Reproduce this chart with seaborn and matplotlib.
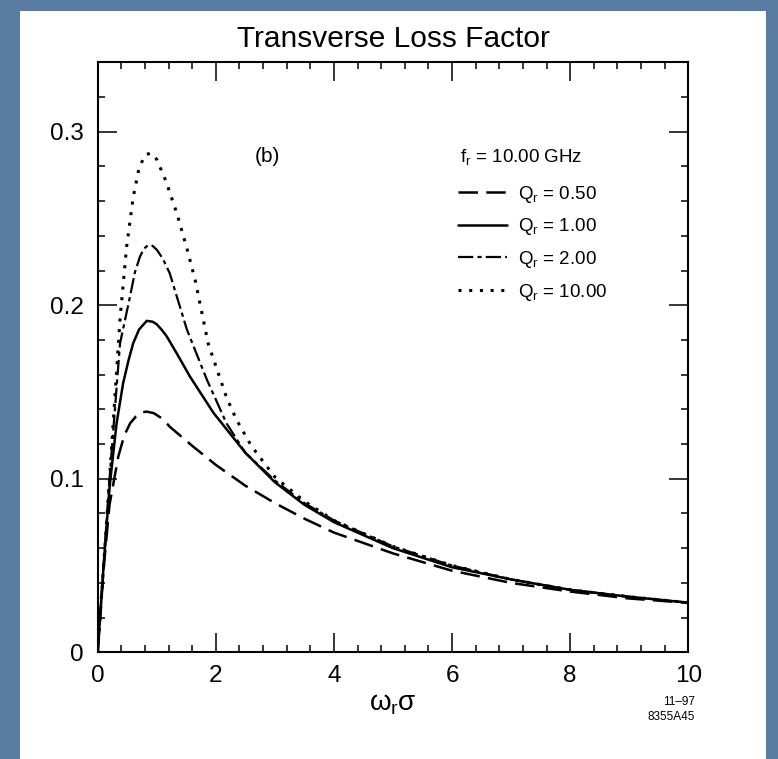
import matplotlib
matplotlib.use("Agg")
import matplotlib.pyplot as plt
import seaborn as sns
import pandas as pd
from matplotlib.patches import Rectangle

# values (bunch length w_r*sigma vs transverse loss factor)
sigma_q05 = [0, 0.1, 0.2, 0.35, 0.45, 0.55, 0.65, 0.75, 0.83, 0.95, 1.1, 1.22, 1.6, 2.0, 2.5, 3.0,
             3.5, 4.0, 5.0, 6.0, 7.0, 8.0, 9.0, 10.0]
loss_q05 = [0, 0.048, 0.085, 0.113, 0.125, 0.132, 0.136, 0.1383, 0.1387, 0.1378, 0.1345, 0.130,
            0.119, 0.108, 0.096, 0.086, 0.077, 0.069, 0.057, 0.047, 0.040, 0.035, 0.031, 0.0285]

sigma_q1 = [0, 0.1, 0.2, 0.32, 0.43, 0.52, 0.6, 0.7, 0.83, 0.93, 1.0, 1.08, 1.17, 1.36, 1.56, 1.96,
            2.5, 3.0, 3.5, 4.0, 5.0, 6.0, 7.0, 8.0, 9.0, 10.0]
loss_q1 = [0, 0.05, 0.095, 0.132, 0.155, 0.168, 0.178, 0.186, 0.191, 0.1905, 0.189, 0.186, 0.182,
           0.171, 0.159, 0.138, 0.115, 0.098, 0.085, 0.075, 0.060, 0.049, 0.042, 0.036, 0.032,
           0.0286]

sigma_q2 = [0, 0.1, 0.2, 0.378, 0.547, 0.63, 0.716, 0.78, 0.857, 0.93, 1.0, 1.1, 1.22, 1.51, 1.85,
            2.18, 2.5, 3.0, 3.5, 4.0, 5.0, 6.0, 7.0, 8.0, 9.0, 10.0]
loss_q2 = [0, 0.05, 0.10, 0.178, 0.205, 0.219, 0.228, 0.2325, 0.2347, 0.2342, 0.232, 0.227, 0.2184,
           0.186, 0.157, 0.132, 0.115, 0.099, 0.086, 0.076, 0.061, 0.050, 0.042, 0.036, 0.032,
           0.0286]

sigma_q10 = [0, 0.1, 0.2, 0.38, 0.49, 0.6, 0.7, 0.8, 0.886, 0.95, 1.0, 1.15, 1.34, 1.5, 1.65, 1.87,
             2.18, 2.35, 2.6, 3.0, 3.5, 4.0, 5.0, 6.0, 7.0, 8.0, 9.0, 10.0]
loss_q10 = [0, 0.05, 0.10, 0.193, 0.2338, 0.262, 0.279, 0.2865, 0.2876, 0.2865, 0.284, 0.272, 0.253,
            0.234, 0.2146, 0.178, 0.147, 0.134, 0.119, 0.101, 0.087, 0.076, 0.061, 0.050, 0.042,
            0.036, 0.032, 0.0286]

q_labels = ["0.50", "1.00", "2.00", "10.00"]

sns.set_style("ticks")
plt.rcParams['font.family'] = ['Liberation Sans', 'DejaVu Sans']
plt.rcParams['mathtext.fontset'] = 'custom'
plt.rcParams['mathtext.rm'] = 'Liberation Sans'
plt.rcParams['mathtext.it'] = 'Liberation Sans'
plt.rcParams['lines.scale_dashes'] = False
plt.rcParams['text.color'] = 'black'
plt.rcParams['xtick.color'] = 'black'
plt.rcParams['ytick.color'] = 'black'
plt.rcParams['axes.labelcolor'] = 'black'

fig = plt.figure(figsize=(7.78, 7.59), dpi=100)
fig.patch.set_facecolor('#5a7ca3')
# white slide panel behind the plot
fig.patches.append(Rectangle((20 / 778, 0), 746 / 778, 1 - 11 / 759, transform=fig.transFigure,
                             facecolor='white', edgecolor='none', zorder=-5))

ax = fig.add_axes([97.7 / 778, 1 - 652.3 / 759, 590.6 / 778, 590 / 759])
ax.set_facecolor('white')

styles = [
    dict(lw=1.8, dashes=(14, 6)),
    dict(lw=1.8, dashes=None),
    dict(lw=1.6, dashes=(11, 3, 3, 3)),
    dict(lw=2.2, dashes=(2.2, 5.5)),
]
series = [(sigma_q05, loss_q05), (sigma_q1, loss_q1), (sigma_q2, loss_q2), (sigma_q10, loss_q10)]

handles = []
for (xs, ys), lab, st in zip(series, q_labels, styles):
    df = pd.DataFrame({'sigma': xs, 'loss': ys})
    sns.lineplot(data=df, x='sigma', y='loss', ax=ax, color='black', sort=False,
                 linewidth=st['lw'], label=r'Q$_\mathrm{r}$ = ' + lab)
    line = ax.lines[-1]
    if st['dashes'] is not None:
        line.set_dashes(st['dashes'])
    line.set_dash_capstyle('butt')
    handles.append(line)

ax.set_xlim(0, 10)
ax.set_ylim(0, 0.34)
ax.set_xticks([0, 2, 4, 6, 8, 10])
ax.set_xticklabels(['0', '2', '4', '6', '8', '10'])
ax.set_xticks([i * 0.4 for i in range(26)], minor=True)
ax.set_yticks([0, 0.1, 0.2, 0.3])
ax.set_yticklabels(['0', '0.1', '0.2', '0.3'])
ax.set_yticks([i * 0.02 for i in range(18)], minor=True)

ax.tick_params(which='both', direction='in', top=True, right=True, width=1.1, color='black')
ax.tick_params(which='major', length=13.5, labelsize=17.5, pad=9)
ax.tick_params(which='minor', length=5)
ax.tick_params(axis='y', which='major', pad=10)
for s in ax.spines.values():
    s.set_linewidth(1.5)
    s.set_color('black')
    s.set_visible(True)

ax.set_title('Transverse Loss Factor', fontsize=21.5, pad=11)
ax.set_xlabel(r'$\omega_\mathrm{r}\sigma$', fontsize=20, labelpad=3)
ax.set_ylabel('')

ax.legend(handles=handles, loc='upper left', bbox_to_anchor=(0.598, 0.807), frameon=False,
          fontsize=13.5, handlelength=2.6, handletextpad=0.6, labelspacing=0.62, borderaxespad=0)

ax.text(0.266, 0.84, '(b)', transform=ax.transAxes, fontsize=15, va='center', ha='left')
ax.text(0.614, 0.84, r'f$_\mathrm{r}$ = 10.00 GHz', transform=ax.transAxes, fontsize=13.5,
        va='center', ha='left')

fig.text(695 / 778, 1 - 702 / 759, '11\u201397', fontsize=8.5, ha='right', va='center')
fig.text(695 / 778, 1 - 717 / 759, '8355A45', fontsize=8.5, ha='right', va='center')

fig.savefig('out.png', dpi=100, facecolor=fig.get_facecolor())
